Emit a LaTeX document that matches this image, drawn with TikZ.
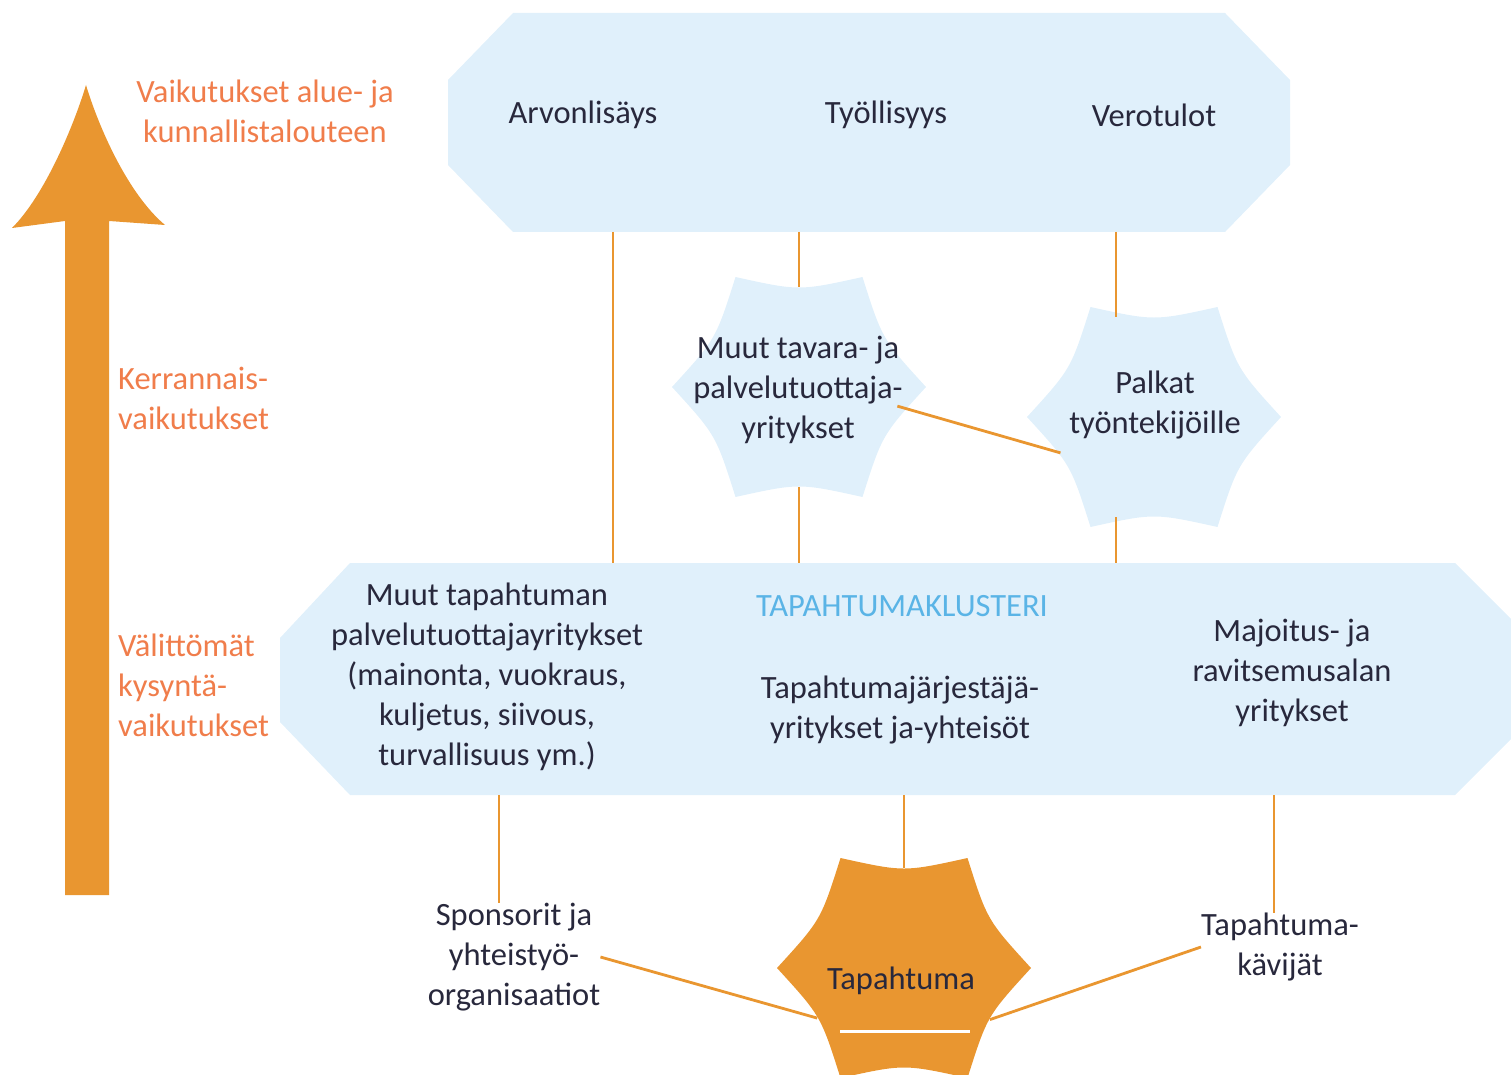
\documentclass[tikz,border=0pt]{standalone}
\usepackage{fontspec}
\setmainfont{Carlito}
\definecolor{orng}{RGB}{233,150,48}
\definecolor{lblue}{RGB}{224,240,251}
\definecolor{txt}{RGB}{40,40,60}
\definecolor{lbl}{RGB}{240,125,75}
\definecolor{clus}{RGB}{90,180,230}
\newcommand{\hexstar}[2]{%
  \fill[#2, shift={(#1)}] (0:127)
    \foreach \a in {60,120,...,360} { .. controls (\a-30:96) .. (\a:127) } -- cycle;}
\begin{document}
\begin{tikzpicture}[x=1pt,y=-1pt,
  every node/.style={font=\fontsize{32.5}{40}\selectfont, text=txt, align=center, inner sep=0pt},
  conn/.style={draw=orng, line width=2.8pt},
  lab/.style={text=lbl, align=left},
  starnode/.style={circle, minimum size=200pt}]
\useasboundingbox (0,0) rectangle (1511,1075);
\clip (0,0) rectangle (1511,1075);

% big arrow
\fill[orng] (86,85) .. controls (74,125) and (45,195) .. (12,228) -- (65,221) -- (65,895) -- (109,895)
  -- (109,221) -- (165,225) .. controls (127,193) and (98,125) .. (86,85) -- cycle;

% octagons
\fill[lblue] (513,13) -- (1225,13) -- (1290,80) -- (1290,165) -- (1225,232) -- (513,232) -- (448,165) -- (448,80) -- cycle;
\fill[lblue] (350,563) -- (1455,563) -- (1525,633) -- (1525,725) -- (1455,795) -- (350,795) -- (280,722) -- (280,638) -- cycle;

% stars
\hexstar{799,387}{lblue}
\hexstar{1154,417}{lblue}
\hexstar{904,968}{orng}
\node[starnode] (s1) at (799,387) {};
\node[starnode] (s2) at (1154,417) {};
\node[starnode] (s3) at (904,968) {};
\draw[white, line width=3pt] (840,1031) -- (970,1031);

% attachment coordinates
\coordinate (t1) at (613,232);
\coordinate (t2) at (799,232);
\coordinate (t3) at (1116,232);
\coordinate (m1) at (613,563);
\coordinate (m2) at (799,563);
\coordinate (m3) at (1116,563);
\coordinate (b1) at (499,795);
\coordinate (b2) at (904,795);
\coordinate (b3) at (1274,795);

% side labels
\node[lab, align=center] (l1) at (265,111) {Vaikutukset alue- ja\\kunnallistalouteen};
\node[lab, anchor=west] (l2) at (118,398) {Kerrannais-\\vaikutukset};
\node[lab, anchor=west] (l3) at (118,685) {Välittömät\\kysyntä-\\vaikutukset};

% top texts
\node (arvo) at (583,115) {Arvonlisäys};
\node (tyo) at (886,115) {Työllisyys};
\node (vero) at (1154,115) {Verotulot};

% star texts
\node (muut) at (798,390) {Muut tavara- ja\\palvelutuottaja-\\yritykset};
\node (palk) at (1155,405) {Palkat\\työntekijöille};
\node (tap) at (901,981) {Tapahtuma};

% middle texts
\node (mtp) at (487,677) {Muut tapahtuman\\palvelutuottajayritykset\\(mainonta, vuokraus,\\kuljetus, siivous,\\turvallisuus ym.)};
\node[text=clus] (klus) at (902,606) {TAPAHTUMAKLUSTERI};
\node (tj) at (900,710) {Tapahtumajärjestäjä-\\yritykset ja-yhteisöt};
\node (maj) at (1292,673) {Majoitus- ja\\ravitsemusalan\\yritykset};

% bottom texts
\node (spons) at (514,957) {Sponsorit ja\\yhteistyö-\\organisaatiot};
\node (kav) at (1280,947) {Tapahtuma-\\kävijät};

% connectors
\draw[conn] (t1) -- (m1);
\draw[conn] (t2) -- (s1.north);
\draw[conn] (s1.south) -- (m2);
\draw[conn] (t3) -- (t3 |- s2.north);
\draw[conn] (t3 |- s2.south) -- (m3);
\draw[conn] (s1.-11) -- (s2.201);
\draw[conn] (b1) -- (b1 |- spons.north);
\draw[conn] (b2) -- (s3.north);
\draw[conn] (b3) -- (b3 |- kav.north);
\draw[conn] (spons.east) -- (s3.210);
\draw[conn] (kav.west) -- (s3.-31);
\end{tikzpicture}
\end{document}
